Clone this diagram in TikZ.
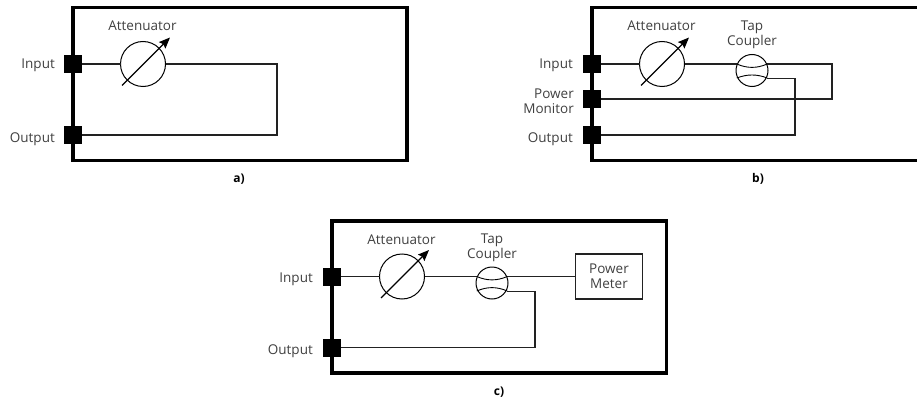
\documentclass[tikz,border=0pt]{standalone}
\usepackage{fontspec}
\setmainfont{Open Sans}
\usetikzlibrary{arrows.meta}
\definecolor{txt}{HTML}{404040}
\definecolor{wire}{HTML}{222222}
\tikzset{
  px/.style={x=1pt,y=-1pt},
  frame/.style={draw=black,line width=3.4pt,miter limit=10},
  port/.style={fill=black,minimum size=18pt,inner sep=0pt,outer sep=0pt,shape=rectangle},
  atten/.style={draw=black,circle,minimum size=45pt,inner sep=0pt,outer sep=0pt,line width=1pt},
  tap/.style={draw=black,circle,minimum size=32pt,inner sep=0pt,outer sep=0pt,line width=1pt},
  wireline/.style={draw=wire,line width=1.1pt},
  adjust/.style={draw=black,line width=1.1pt,-{Stealth[length=11pt,width=9pt,inset=1.5pt]}},
  lbl/.style={text=txt,font=\fontsize{13.5}{15}\selectfont,inner sep=0pt,align=center},
  lblb/.style={lbl,anchor=base},
  lblr/.style={lbl,anchor=base east,align=right},
  lblm/.style={lbl,anchor=east,align=right},
  capt/.style={text=black,font=\fontsize{12}{14}\selectfont\bfseries,inner sep=0pt,anchor=base},
  meter/.style={draw=wire,line width=1.1pt,minimum width=67pt,minimum height=45pt,inner sep=0pt}
}
\begin{document}
\begin{tikzpicture}[px]
\useasboundingbox (0,0) rectangle (917,401);
\clip (0,0) rectangle (917,401);
% ---------- a
\draw[frame] (73,7.5) rectangle (407,160.5);
\node[port] (aI) at (73,64) {};
\node[port] (aO) at (73,135) {};
\node[atten] (aA) at (143,64) {};
\coordinate (aR) at (277,64);
\coordinate (aS) at (277,135);
\draw[wireline] (aI) -- (aA);
\draw[wireline] (aA) -- (aR) -- (aS) -- (aO);
\coordinate (aA1) at (122,85.5);
\coordinate (aA2) at (170,37.5);
\draw[adjust] (aA1) -- (aA2);
\node[lblb] (aAt) at (142.5,31) {Attenuator};
\node[lblr] (aIl) at (55,69) {Input};
\node[lblr] (aOl) at (55,142.5) {Output};
\node[capt] (aC) at (239,182) {a)};
% ---------- b
\draw[frame] (592,7.5) rectangle (928,160.5);
\node[port] (bI) at (592,64) {};
\node[port] (bP) at (592,99) {};
\node[port] (bO) at (592,135) {};
\node[atten] (bA) at (662,64) {};
\node[tap] (bT) at (752,70.5) {};
\coordinate (bT1) at (736.8,64);
\coordinate (bT2) at (767.2,64);
\coordinate (bT3) at (736.8,78);
\coordinate (bT4) at (767.2,78);
\coordinate (bR1) at (832,64);
\coordinate (bR2) at (832,99);
\coordinate (bS1) at (795,78.5);
\coordinate (bS2) at (795,135);
\draw[wireline] (bI) -- (bA);
\draw[wireline] (bA) -- (bT1);
\draw[wireline] (bT2) -- (bR1) -- (bR2) -- (bP);
\draw[wireline] (bT4 |- bS1) -- (bS1) -- (bS2) -- (bO);
\draw[line width=.9pt] (bT1) .. controls (747,68.5) and (757,68.5) .. (bT2);
\draw[line width=.9pt] (bT3) .. controls (747,74) and (757,74) .. (bT4);
\coordinate (bA1) at (641,85.5);
\coordinate (bA2) at (689,37.5);
\draw[adjust] (bA1) -- (bA2);
\node[lblb] (bAt) at (661.5,31) {Attenuator};
\node[lbl] (bTt) at (752,35) {Tap\\Coupler};
\node[lblr] (bIl) at (573,69) {Input};
\node[lblm] (bPl) at (574,101) {Power\\Monitor};
\node[lblr] (bOl) at (573,142.5) {Output};
\node[capt] (bC) at (758,182) {b)};
% ---------- c
\draw[frame] (332,221) rectangle (666.5,373);
\node[port] (cI) at (332,276.5) {};
\node[port] (cO) at (332,347.5) {};
\node[atten] (cA) at (402,276.5) {};
\node[tap] (cT) at (492,283) {};
\node[meter] (cM) at (609,276.5) {};
\node[lbl] (cMt) at (609,276.5) {Power\\Meter};
\coordinate (cT1) at (476.8,276.5);
\coordinate (cT2) at (507.2,276.5);
\coordinate (cT3) at (476.8,291);
\coordinate (cT4) at (507.2,291);
\coordinate (cS1) at (535,291.5);
\coordinate (cS2) at (535,347.5);
\draw[wireline] (cI) -- (cA);
\draw[wireline] (cA) -- (cT1);
\draw[wireline] (cT2) -- (cM.west |- cT2);
\draw[wireline] (cT4 |- cS1) -- (cS1) -- (cS2) -- (cO);
\draw[line width=.9pt] (cT1) .. controls (487,281) and (497,281) .. (cT2);
\draw[line width=.9pt] (cT3) .. controls (487,286.5) and (497,286.5) .. (cT4);
\coordinate (cA1) at (381,298);
\coordinate (cA2) at (429,250);
\draw[adjust] (cA1) -- (cA2);
\node[lblb] (cAt) at (401.5,244) {Attenuator};
\node[lbl] (cTt) at (492,248) {Tap\\Coupler};
\node[lblr] (cIl) at (313,282) {Input};
\node[lblr] (cOl) at (313,354.5) {Output};
\node[capt] (cC) at (499,395) {c)};
\end{tikzpicture}
\end{document}
